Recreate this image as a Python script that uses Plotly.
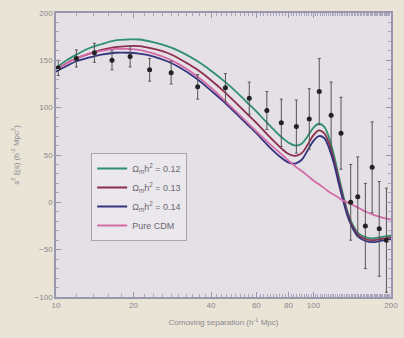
import plotly.graph_objects as go

# Redshift-space correlation function, s^2 xi(s), of the LRG sample
sep = [10.2, 12.0, 14.1, 16.5, 19.4, 23.1, 28.0, 35.5, 45.5, 56.3, 65.9, 75.0,
       85.8, 96.3, 105.3, 117.1, 127.9, 139.5, 148.6, 159.0, 169.0, 180.0, 192.0]
xi_s2 = [142, 152, 158, 150, 154, 140, 137, 122, 121, 110, 97, 84,
         80, 88, 117, 92, 73, 0, 6, -25, 37, -28, -40]
xi_err = [8, 9, 10, 10, 11, 12, 12, 13, 15, 17, 20, 25,
          28, 32, 35, 35, 38, 40, 42, 45, 48, 50, 55]

# Model curves
s_model = [10, 11, 12, 13.5, 15, 17, 19, 21, 24, 27, 30, 35, 40, 45, 50, 55, 60, 65,
           70, 75, 80, 85, 90, 95, 100, 105, 110, 115, 120, 125, 130, 135, 140,
           145, 150, 160, 170, 180, 190, 200]
model_012 = [142, 150, 156, 163, 167, 171, 172, 172, 169, 165, 160, 150, 139, 128,
             117, 106, 96, 86, 77, 69, 63, 60, 62, 70, 79, 83, 80, 68, 50, 29, 9,
             -8, -20, -28, -33, -37, -38, -37, -36, -35]
model_013 = [140, 147, 152, 157, 161, 164, 165, 165, 162, 158, 152, 141, 129, 117,
             105, 94, 84, 74, 65, 57, 51, 49, 52, 61, 71, 76, 73, 62, 45, 25, 6,
             -10, -22, -30, -35, -39, -40, -39, -38, -37]
model_014 = [138, 144, 149, 153, 156, 158, 158, 157, 154, 149, 143, 131, 118, 106,
             94, 83, 73, 63, 54, 47, 42, 41, 45, 55, 65, 70, 68, 57, 41, 21, 3,
             -13, -24, -32, -37, -41, -42, -41, -40, -39]
model_cdm = [140, 147, 152, 157, 160, 162, 162, 161, 157, 152, 146, 134, 121, 108,
             96, 85, 75, 66, 58, 51, 44, 38, 33, 28, 23, 19, 15, 11, 8, 5, 2, 0,
             -2, -4, -6, -10, -13, -15, -17, -18]

labels = ["Ω<sub>m</sub>h<sup>2</sup> = 0.12", "Ω<sub>m</sub>h<sup>2</sup> = 0.13",
          "Ω<sub>m</sub>h<sup>2</sup> = 0.14", "Pure CDM"]
colors = ["#2f8f72", "#8c2f4c", "#34347e", "#d46aa8"]

x_ticks = [10, 20, 40, 60, 80, 100, 200]
y_ticks = [-100, -50, 0, 50, 100, 150, 200]

fig = go.Figure()
for ys, name, col in zip([model_012, model_013, model_014, model_cdm], labels, colors):
    fig.add_trace(go.Scatter(x=s_model, y=ys, mode="lines", name=name,
                             line=dict(color=col, width=1.8, shape="spline")))

fig.add_trace(go.Scatter(
    x=sep, y=xi_s2, mode="markers", showlegend=False,
    marker=dict(color="#222222", size=5),
    error_y=dict(type="data", array=xi_err, color="#555555", thickness=1, width=1.5),
))

font = dict(family="Liberation Sans, Arial, sans-serif", size=8, color="#8a8790")
axis_common = dict(showline=True, mirror="ticks", linecolor="#9a96ad", linewidth=1.5,
                   ticks="inside", ticklen=5, tickcolor="#9a96ad",
                   showgrid=False, zeroline=False, tickfont=font)

fig.update_xaxes(type="log", range=[1, 2.30103], tickvals=x_ticks,
                 ticktext=[str(v) for v in x_ticks],
                 minor=dict(ticks="inside", ticklen=3, tickcolor="#aaa6bb"),
                 title=dict(text="Comoving separation (h<sup>-1</sup> Mpc)",
                            font=dict(family=font["family"], size=8, color="#8a8790"),
                            standoff=10),
                 **axis_common)
fig.update_yaxes(range=[-100, 200], tickvals=y_ticks,
                 minor=dict(ticks="inside", ticklen=3, tickcolor="#aaa6bb", dtick=10),
                 title=dict(text="s<sup>2</sup> ξ(s) (h<sup>-2</sup> Mpc<sup>2</sup>)",
                            font=dict(family=font["family"], size=8, color="#8a8790"),
                            standoff=14),
                 **axis_common)

fig.update_layout(
    width=404, height=338,
    margin=dict(l=56, r=6, t=13, b=41),
    paper_bgcolor="#e9e4d5",
    plot_bgcolor="#e4e0e5",
    font=font,
    legend=dict(x=0.105, y=0.507, xanchor="left", yanchor="top",
                bgcolor="#ebe8ed", bordercolor="#a8a4b4", borderwidth=1,
                font=dict(family=font["family"], size=9, color="#6a6670"),
                itemwidth=30, tracegroupgap=2),
)

fig.write_html("out.html")
